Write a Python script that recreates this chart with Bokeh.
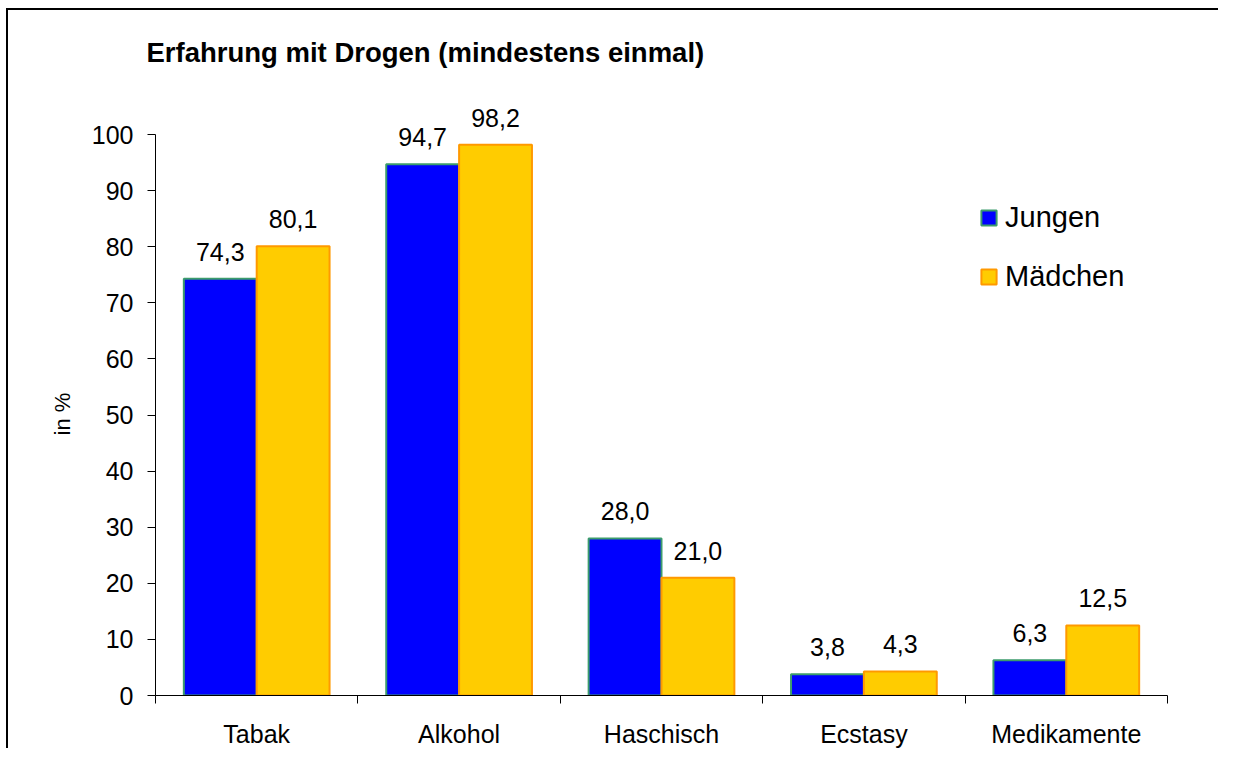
from bokeh.plotting import figure
from bokeh.models import (Range1d, FixedTicker, LabelSet, ColumnDataSource,
                          Legend, LegendItem, Title, InlineStyleSheet)
from bokeh.core.properties import value
from bokeh.embed import file_html
from bokeh.resources import INLINE

# ---- data ----
categories = ["Tabak", "Alkohol", "Haschisch", "Ecstasy", "Medikamente"]
jungen = [74.3, 94.7, 28.0, 3.8, 6.3]
maedchen = [80.1, 98.2, 21.0, 4.3, 12.5]
y_ticks = [0, 10, 20, 30, 40, 50, 60, 70, 80, 90, 100]
series_names = ["Jungen", "Mädchen"]
title_text = "Erfahrung mit Drogen (mindestens einmal)"
y_label = "in %"

FONT = "Liberation Sans"
BAR_W = 0.36

def fmt(v):
    return f"{v:.1f}".replace(".", ",")

n = len(categories)
centers = [i + 0.5 for i in range(n)]
xj = [c - BAR_W / 2 for c in centers]
xm = [c + BAR_W / 2 for c in centers]

src_j = ColumnDataSource(dict(x=xj, top=jungen, lbl=[fmt(v) for v in jungen]))
src_m = ColumnDataSource(dict(x=xm, top=maedchen, lbl=[fmt(v) for v in maedchen]))

p = figure(width=1210, height=738, x_range=Range1d(0, n), y_range=Range1d(0, 110),
           output_backend="svg", toolbar_location=None,
           min_border_left=147, min_border_right=53,
           min_border_top=68, min_border_bottom=53)
p.stylesheets = [InlineStyleSheet(css=(
    ":host { margin-left: 6px; margin-top: 8px; box-sizing: content-box; "
    "overflow: hidden; border-left: 2px solid black; border-top: 2px solid black; }"))]
p.xgrid.visible = False
p.ygrid.visible = False
p.outline_line_color = None
p.background_fill_color = "white"
p.border_fill_color = "white"

# title
p.title.text = title_text
p.title.text_font = FONT
p.title.text_font_size = "27.5px"
p.title.text_font_style = "bold"
p.title.text_color = "black"
p.title.align = "left"
p.title.offset = -9
p.title.standoff = 22

r1 = p.vbar(x="x", top="top", bottom=0, width=BAR_W, source=src_j,
            fill_color="#0000FF", line_color="#3C9C6C", line_width=2)
r2 = p.vbar(x="x", top="top", bottom=0, width=BAR_W, source=src_m,
            fill_color="#FFCC00", line_color="#FF9900", line_width=2)

for s in (src_j, src_m):
    p.add_layout(LabelSet(x="x", y="top", text="lbl", source=s, y_offset=18,
                          text_align="center", text_baseline="alphabetic",
                          text_font=value(FONT), text_font_size=value("25px"),
                          text_color="black"))

# x axis: labels at centres, ticks at category boundaries (minor ticks)
xa = p.xaxis[0]
xa.ticker = FixedTicker(ticks=centers, minor_ticks=list(range(n + 1)))
xa.major_label_overrides = {c: cat for c, cat in zip(centers, categories)}
xa.major_tick_out = 0
xa.major_tick_in = 0
xa.minor_tick_out = 8
xa.minor_tick_in = 0
xa.minor_tick_line_color = "black"
xa.axis_line_color = "black"
xa.major_label_text_font = FONT
xa.major_label_text_font_size = "25px"
xa.major_label_text_color = "black"
xa.major_label_standoff = 16

ya = p.yaxis[0]
ya.ticker = FixedTicker(ticks=y_ticks)
ya.bounds = (0, 100)
ya.minor_tick_line_color = None
ya.major_tick_out = 8
ya.major_tick_in = 0
ya.major_tick_line_color = "black"
ya.axis_line_color = "black"
ya.major_label_text_font = FONT
ya.major_label_text_font_size = "25px"
ya.major_label_text_color = "black"
ya.major_label_standoff = 14

# y axis label as a side title, centred on the 0..100 span
ytitle = Title(text=y_label, align="left", offset=260, standoff=28,
               text_font=FONT, text_font_size="22px", text_font_style="normal",
               text_color="black")
p.add_layout(ytitle, "left")

legend = Legend(items=[LegendItem(label=series_names[0], renderers=[r1]),
                       LegendItem(label=series_names[1], renderers=[r2])],
                location=(824, 402), orientation="vertical",
                glyph_width=19, glyph_height=19, label_standoff=7,
                label_text_font=FONT, label_text_font_size="29px",
                label_text_color="black", spacing=26, padding=0, margin=0,
                border_line_color=None, background_fill_alpha=0)
p.add_layout(legend)

open("out.html", "w").write(file_html(p, INLINE))
